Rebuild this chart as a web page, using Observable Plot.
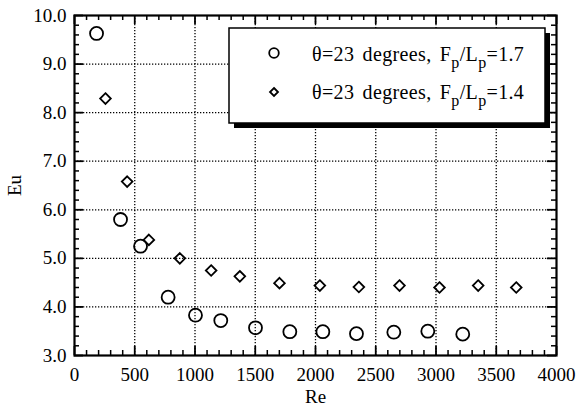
<!DOCTYPE html>
<html>
<head>
<meta charset="utf-8">
<script src="https://cdn.jsdelivr.net/npm/d3@7"></script>
<script src="https://cdn.jsdelivr.net/npm/@observablehq/plot@0.6"></script>
<style>
  html, body { margin: 0; padding: 0; background: white; }
</style>
</head>
<body>
<div id="chart"></div>
<script>
// Series: theta=23 degrees, Fp/Lp=1.7 (circles)
const reA = [183, 382, 548, 777, 1004, 1214, 1502, 1787, 2061, 2340, 2650, 2932, 3222];
const euA = [9.63, 5.80, 5.25, 4.20, 3.83, 3.72, 3.57, 3.49, 3.49, 3.45, 3.48, 3.50, 3.44];
// Series: theta=23 degrees, Fp/Lp=1.4 (diamonds)
const reB = [257, 437, 617, 874, 1134, 1372, 1701, 2036, 2360, 2697, 3029, 3350, 3666];
const euB = [8.29, 6.58, 5.38, 5.00, 4.75, 4.63, 4.49, 4.44, 4.41, 4.44, 4.40, 4.44, 4.40];

const labelA = "1.7";
const labelB = "1.4";

const xTicks = [0, 500, 1000, 1500, 2000, 2500, 3000, 3500, 4000];
const yTicks = [3, 4, 5, 6, 7, 8, 9, 10];
const xMinor = d3.range(0, 4001, 100).filter(v => v % 500 !== 0);
const yMinor = d3.range(30, 101, 2).map(v => v / 10).filter(v => Math.abs(v - Math.round(v)) > 1e-9);
const xGrid = xTicks.slice(1, -1);
const yGrid = yTicks.slice(1, -1);

const dataA = reA.map((x, i) => ({x, y: euA[i]}));
const dataB = reB.map((x, i) => ({x, y: euB[i]}));

const W = 578, H = 412, mL = 74, mR = 22, mT = 15, mB = 57;
const innerW = W - mL - mR, innerH = H - mT - mB;
const font = "Liberation Serif";

const chart = Plot.plot({
  width: W, height: H,
  marginLeft: mL, marginRight: mR, marginTop: mT, marginBottom: mB,
  x: {domain: [0, 4000]},
  y: {domain: [3, 10]},
  style: {fontFamily: font, fontSize: "19px", color: "black", background: "white"},
  marks: [
    Plot.ruleX(xGrid, {x: d => d, stroke: "black", strokeWidth: 1.3, strokeDasharray: "1.3,1.7"}),
    Plot.ruleY(yGrid, {y: d => d, stroke: "black", strokeWidth: 1.3, strokeDasharray: "1.3,1.7"}),
    // inward ticks, bottom & top
    Plot.tickX(xMinor, {x: d => d, insetTop: innerH - 5, strokeWidth: 1.5}),
    Plot.tickX(xMinor, {x: d => d, insetBottom: innerH - 5, strokeWidth: 1.5}),
    Plot.tickX(xTicks, {x: d => d, insetTop: innerH - 9, strokeWidth: 1.8}),
    Plot.tickX(xTicks, {x: d => d, insetBottom: innerH - 9, strokeWidth: 1.8}),
    // inward ticks, left & right
    Plot.tickY(yMinor, {y: d => d, insetRight: innerW - 5, strokeWidth: 1.5}),
    Plot.tickY(yMinor, {y: d => d, insetLeft: innerW - 5, strokeWidth: 1.5}),
    Plot.tickY(yTicks, {y: d => d, insetRight: innerW - 9, strokeWidth: 1.8}),
    Plot.tickY(yTicks, {y: d => d, insetLeft: innerW - 9, strokeWidth: 1.8}),
    Plot.axisX({ticks: xTicks, tickSize: 0, tickPadding: 12, tickFormat: d => String(d),
      label: "Re", labelAnchor: "center", labelOffset: 47, labelArrow: "none"}),
    Plot.axisY({ticks: yTicks, tickSize: 0, tickPadding: 8, tickFormat: d3.format(".1f"),
      label: "Eu", labelAnchor: "center", labelOffset: 67, labelArrow: "none"}),
    Plot.frame({stroke: "black", strokeWidth: 2.2}),
    Plot.dot(dataA, {x: "x", y: "y", symbol: "circle", r: 6.5, stroke: "black", strokeWidth: 1.8, fill: "none"}),
    Plot.dot(dataB, {x: "x", y: "y", symbol: "diamond2", r: 4.8, stroke: "black", strokeWidth: 1.8, fill: "none"})
  ]
});

document.getElementById("chart").appendChild(chart);

// Legend box with drop shadow
const svg = d3.select(chart);
const g = svg.append("g").attr("font-family", font).attr("font-size", 20).attr("text-anchor", "start");
const bx = 229, by = 28, bw = 316, bh = 95, sh = 5;
g.append("rect").attr("x", bx + sh).attr("y", by + sh).attr("width", bw).attr("height", bh).attr("fill", "black");
g.append("rect").attr("x", bx).attr("y", by).attr("width", bw).attr("height", bh)
  .attr("fill", "white").attr("stroke", "black").attr("stroke-width", 1.5);

const entries = [
  {sym: d3.symbolCircle, r: 4.8, val: labelA, cy: 53, base: 61},
  {sym: d3.symbolDiamond2, r: 3.6, val: labelB, cy: 92, base: 99}
];
for (const e of entries) {
  g.append("path")
    .attr("d", d3.symbol(e.sym, Math.PI * e.r * e.r)())
    .attr("transform", `translate(274,${e.cy})`)
    .attr("fill", "none").attr("stroke", "black").attr("stroke-width", 1.8);
  const t = g.append("text").attr("x", 312).attr("y", e.base).attr("fill", "black")
    .attr("word-spacing", 3).attr("letter-spacing", 0.35);
  t.append("tspan").text("θ=23 degrees, F");
  t.append("tspan").attr("dy", 7).attr("font-size", 16).text("p");
  t.append("tspan").attr("dy", -7).text("/L");
  t.append("tspan").attr("dy", 7).attr("font-size", 16).text("p");
  t.append("tspan").attr("dy", -7).text("=" + e.val);
}
</script>
</body>
</html>
